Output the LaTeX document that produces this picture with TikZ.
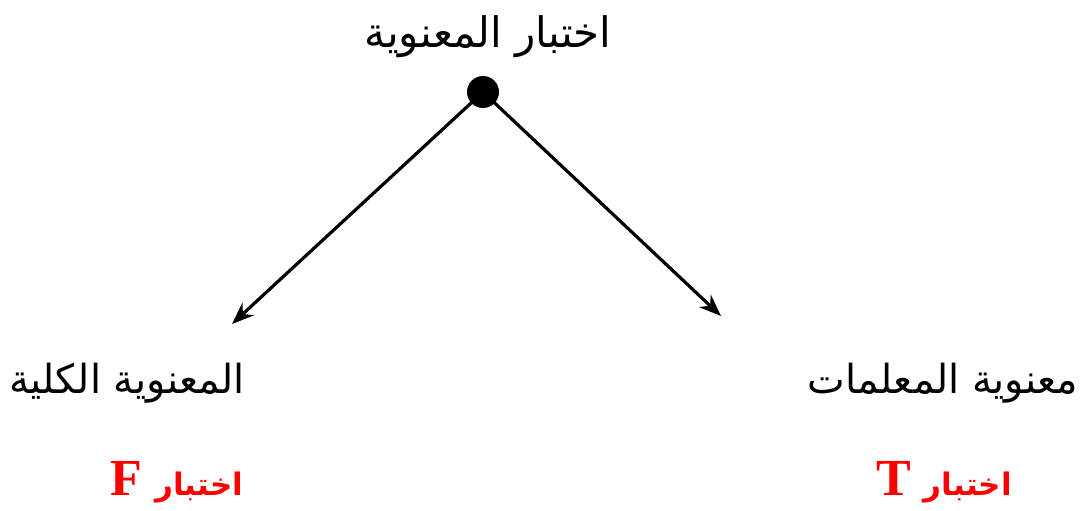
\documentclass[tikz,border=0pt]{standalone}
\usepackage{fontspec}
\setmainfont{Liberation Serif}
\newfontfamily\arabicfont[Script=Arabic]{DejaVu Sans}
\TeXXeTstate=1
\usetikzlibrary{
  arrows.meta,
  positioning
}
\definecolor{sgRed}{HTML}{FF0000}
\tikzset{
  sglabel/.style={font=\arabicfont\fontsize{40}{48}\selectfont, inner sep=0pt},
  sgtest/.style={font=\fontsize{52}{58}\selectfont\bfseries, text=sgRed, inner sep=0pt},
  sgdot/.style={circle, fill=black, minimum size=32pt, inner sep=0pt},
  sgarrow/.style={-{Stealth[length=22pt, width=17pt]}, line width=3.2pt}
}
\newcommand{\sgword}{{\arabicfont\fontsize{31}{36}\selectfont\bfseries اختبار}}

\begin{document}
\begin{tikzpicture}[x=1pt, y=-1pt]
  \useasboundingbox (0,0) rectangle (1092,511);
  \node[sglabel, font=\arabicfont\fontsize{42}{48}\selectfont] (top) at (488,37) {\beginR اختبار المعنوية\endR};
  \node[sgdot] (dot) at (483,92) {};
  \coordinate (leftend) at (232,324);
  \coordinate (rightend) at (721,316);
  \draw[sgarrow] (dot.center) -- (leftend);
  \draw[sgarrow] (dot.center) -- (rightend);
  \node[sglabel] (overall) at (127,383) {\beginR المعنوية الكلية\endR};
  \node[sglabel] (params) at (943,383) {\beginR معنوية المعلمات\endR};
  \node[sgtest] (ftest) at (177,482) {\beginR\sgword{} F\endR};
  \node[sgtest] (ttest) at (944,482) {\beginR\sgword{} T\endR};
\end{tikzpicture}
\end{document}
